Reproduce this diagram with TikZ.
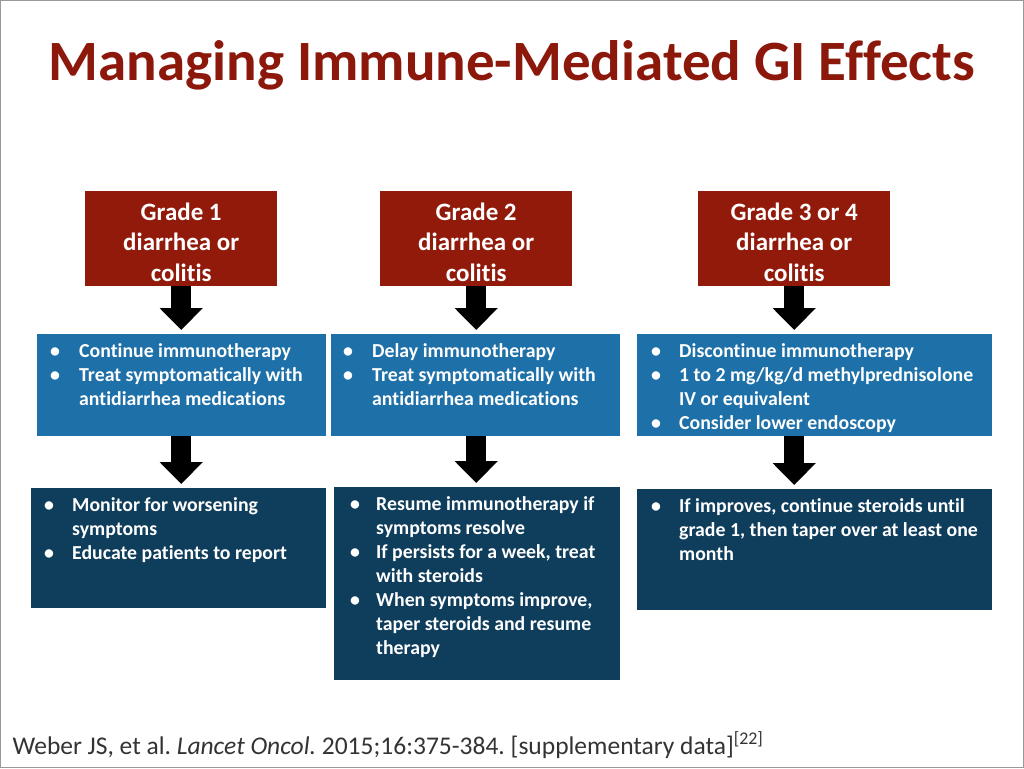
\documentclass[tikz,border=0pt]{standalone}
\usepackage{fontspec}
\setmainfont{Carlito}[Ligatures=NoCommon]
\usetikzlibrary{arrows.meta,positioning}
\definecolor{titlered}{RGB}{140,24,12}
\definecolor{gradered}{RGB}{145,26,11}
\definecolor{stepblue}{RGB}{30,112,168}
\definecolor{stepdark}{RGB}{15,61,92}
\newcommand{\itm}[1][29pt]{\makebox[#1][l]{\textbullet}}
\newcommand{\cnt}[1][29pt]{\hspace*{#1}}
\newcommand{\fstrut}{\rule{0pt}{14pt}}
\newcommand{\gstrut}{\rule{0pt}{24pt}}
\frenchspacing

\begin{document}
\begin{tikzpicture}[x=1pt,y=-1pt,
    gradebox/.style={fill=gradered, text=white, align=center, inner sep=0pt,
      anchor=north west, minimum width=192pt, minimum height=95pt,
      font=\bfseries\fontsize{25}{30.5}\selectfont},
    stepbox/.style={fill=#1, inner sep=0pt, anchor=north west},
    steptext/.style={text=white, align=left, inner sep=0pt, anchor=north west,
      font=\bfseries\fontsize{19.8}{24}\selectfont},
    flow/.style={line width=20pt, -{Triangle[width=42pt,length=22pt]}, shorten >=4pt}]
  \useasboundingbox (0,0) rectangle (1024,768);
  \draw[gray!80, line width=1pt] (0.5,0.5) rectangle (1023.5,767.5);

  % title
  \node[anchor=base, text=titlered, font=\bfseries\fontsize{57}{62}\selectfont] (title) at (512,80)
    {Managing Immune-Mediated GI Effects};

  % grades
  \node[gradebox] (g1) at (85,191) {\gstrut Grade 1\\diarrhea or\\colitis};
  \node[gradebox] (g2) at (380,191) {\gstrut Grade 2\\diarrhea or\\colitis};
  \node[gradebox] (g3) at (698,191) {\gstrut Grade 3 or 4\\diarrhea or\\colitis};

  % first actions
  \node[stepbox=stepblue, minimum width=289pt, minimum height=102pt] (a1) at (37,334) {};
  \node[stepbox=stepblue, minimum width=289pt, minimum height=102pt] (a2) at (331,334) {};
  \node[stepbox=stepblue, minimum width=355pt, minimum height=102pt] (a3) at (637,334) {};
  \node[steptext] (ta1) at ([xshift=13pt,yshift=-9pt]a1.north west)
    {\fstrut\itm Continue immunotherapy\\
     \itm Treat symptomatically with\\
     \cnt antidiarrhea medications};
  \node[steptext] (ta2) at ([xshift=12pt,yshift=-9pt]a2.north west)
    {\fstrut\itm Delay immunotherapy\\
     \itm Treat symptomatically with\\
     \cnt antidiarrhea medications};
  \node[steptext] (ta3) at ([xshift=14pt,yshift=-9pt]a3.north west)
    {\fstrut\itm[28pt]Discontinue immunotherapy\\
     \itm[28pt]1 to 2 mg/kg/d methylprednisolone\\
     \cnt[28pt]IV or equivalent\\
     \itm[28pt]Consider lower endoscopy};

  % follow up
  \node[stepbox=stepdark, minimum width=295pt, minimum height=120pt] (d1) at (31,488) {};
  \node[stepbox=stepdark, minimum width=286pt, minimum height=193pt] (d2) at (334,487) {};
  \node[stepbox=stepdark, minimum width=355pt, minimum height=121pt] (d3) at (637,489) {};
  \node[steptext] (td1) at ([xshift=13pt,yshift=-9pt]d1.north west)
    {\fstrut\itm[28pt]Monitor for worsening\\
     \cnt[28pt]symptoms\\
     \itm[28pt]Educate patients to report};
  \node[steptext] (td2) at ([xshift=16pt,yshift=-9pt]d2.north west)
    {\fstrut\itm[26pt]Resume immunotherapy if\\
     \cnt[26pt]symptoms resolve\\
     \itm[26pt]If persists for a week, treat\\
     \cnt[26pt]with steroids\\
     \itm[26pt]When symptoms improve,\\
     \cnt[26pt]taper steroids and resume\\
     \cnt[26pt]therapy};
  \node[steptext] (td3) at ([xshift=14pt,yshift=-9pt]d3.north west)
    {\fstrut\itm[28pt]If improves, continue steroids until\\
     \cnt[28pt]grade 1, then taper over at least one\\
     \cnt[28pt]month};

  % arrows
  \draw[flow] (g1.south) -- (g1.south |- a1.north);
  \draw[flow] (g2.south) -- (g2.south |- a2.north);
  \draw[flow] (g3.south) -- (g3.south |- a3.north);
  \draw[flow] (a1.south -| g1.south) -- (g1.south |- d1.north);
  \draw[flow] (a2.south -| g2.south) -- (g2.south |- d2.north);
  \draw[flow] (a3.south -| g3.south) -- (g3.south |- d3.north);

  % source
  \node[anchor=base west, text=black!80, font=\fontsize{25.5}{28}\selectfont] (src) at (9,754)
    {Weber JS, et al. \textit{Lancet Oncol.} 2015;16:375-384. [supplementary data]\textsuperscript{[22]}};
\end{tikzpicture}
\end{document}
